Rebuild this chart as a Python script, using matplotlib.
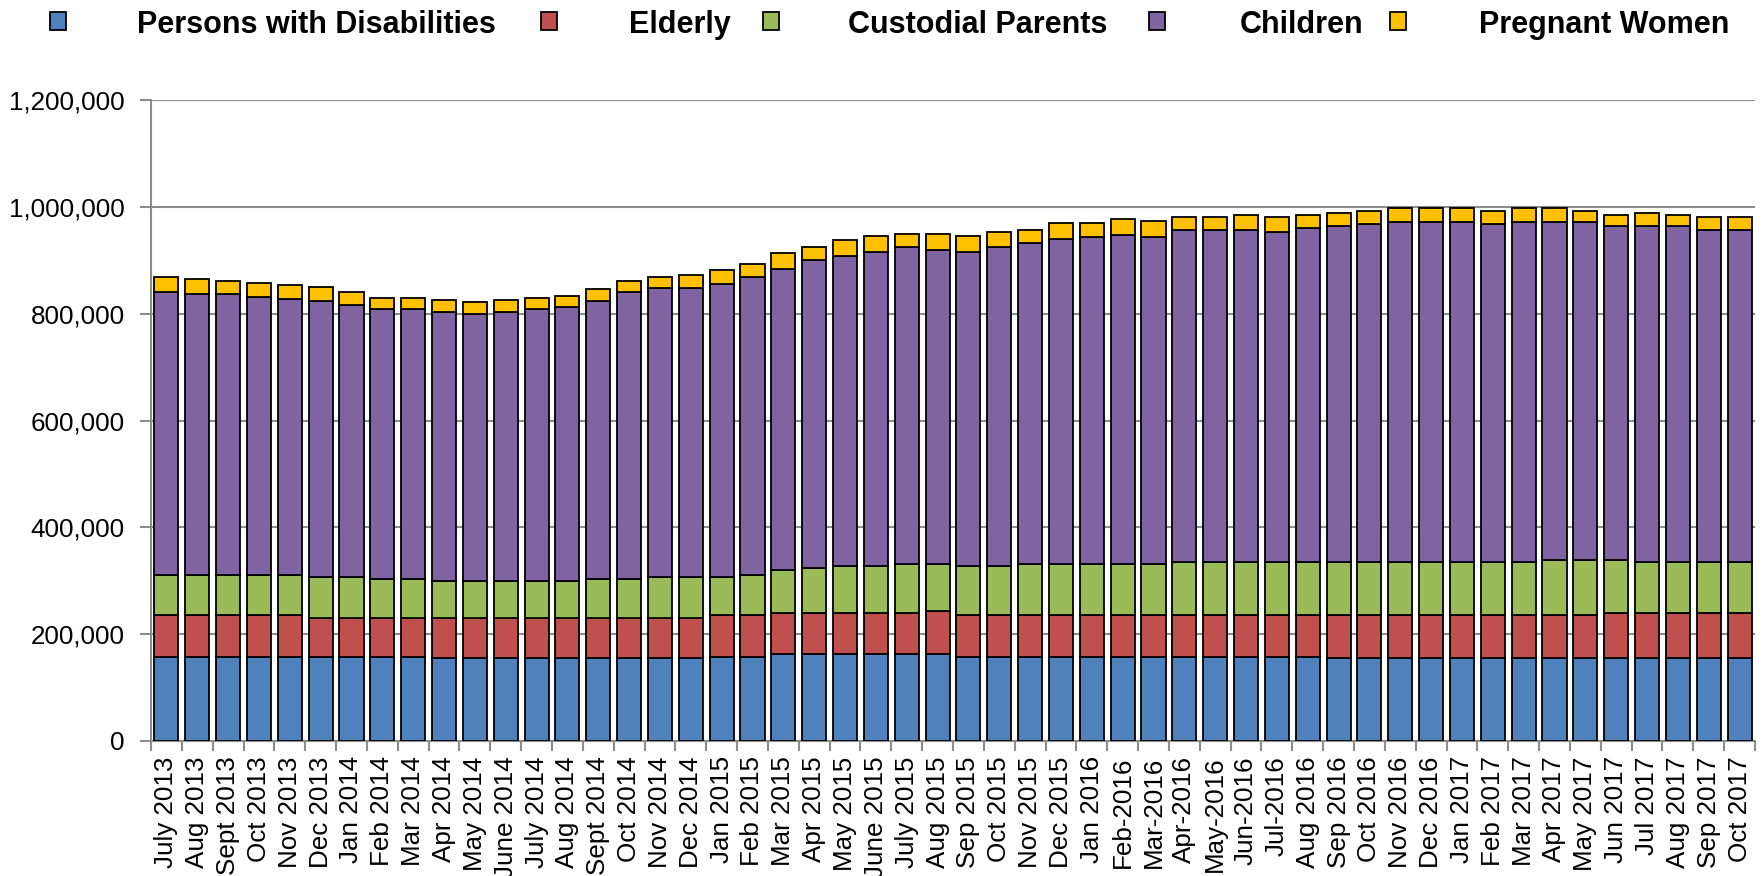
import numpy as np
import matplotlib
matplotlib.use('Agg')
import matplotlib.pyplot as plt
from matplotlib.patches import Rectangle
from matplotlib.ticker import FuncFormatter, MultipleLocator

plt.rcParams['font.family'] = ['Liberation Sans', 'DejaVu Sans']

months = ['July 2013', 'Aug 2013', 'Sept 2013', 'Oct 2013', 'Nov 2013', 'Dec 2013',
          'Jan 2014', 'Feb 2014', 'Mar 2014', 'Apr 2014', 'May 2014', 'June 2014',
          'July 2014', 'Aug 2014', 'Sept 2014', 'Oct 2014', 'Nov 2014', 'Dec 2014',
          'Jan 2015', 'Feb 2015', 'Mar 2015', 'Apr 2015', 'May 2015', 'June 2015',
          'July 2015', 'Aug 2015', 'Sep 2015', 'Oct 2015', 'Nov 2015', 'Dec 2015',
          'Jan 2016', 'Feb-2016', 'Mar-2016', 'Apr-2016', 'May-2016', 'Jun-2016',
          'Jul-2016', 'Aug 2016', 'Sep 2016', 'Oct 2016', 'Nov 2016', 'Dec 2016',
          'Jan 2017', 'Feb 2017', 'Mar 2017', 'Apr 2017', 'May 2017', 'Jun 2017',
          'Jul 2017', 'Aug 2017', 'Sep 2017', 'Oct 2017']

# values in thousands
disabled = [158, 158, 158, 158, 158, 158, 158, 158, 158, 155, 155, 155,
            155, 155, 155, 155, 155, 155, 158, 158, 162, 162, 162, 162,
            162, 162, 158, 158, 158, 158, 158, 158, 158, 158, 158, 158,
            158, 158, 155, 155, 155, 155, 155, 155, 155, 155, 155, 155,
            155, 155, 155, 155]
elderly = [77, 77, 77, 77, 77, 73, 73, 73, 73, 76, 76, 76,
           76, 76, 76, 76, 76, 76, 77, 77, 77, 77, 77, 77,
           77, 81, 77, 77, 77, 77, 77, 77, 77, 77, 77, 77,
           77, 77, 80, 80, 80, 80, 80, 80, 80, 80, 80, 84,
           84, 84, 84, 84]
custodial = [76, 76, 76, 76, 76, 76, 76, 72, 72, 68, 68, 68,
             68, 68, 72, 72, 76, 76, 72, 76, 81, 84, 88, 88,
             92, 88, 92, 92, 96, 96, 96, 96, 96, 100, 100, 100,
             100, 100, 100, 100, 100, 100, 100, 100, 100, 104, 104, 100,
             96, 96, 96, 96]
children = [529, 525, 525, 521, 517, 517, 509, 505, 505, 505, 501, 505,
            509, 513, 521, 537, 541, 541, 549, 557, 564, 577, 581, 589,
            593, 589, 589, 597, 601, 609, 613, 617, 613, 621, 621, 621,
            618, 626, 630, 633, 637, 637, 637, 633, 637, 633, 633, 626,
            630, 630, 622, 622]
pregnant = [28, 29, 26, 25, 25, 26, 25, 22, 22, 22, 22, 22,
            22, 21, 22, 21, 21, 25, 25, 25, 29, 25, 29, 29,
            25, 29, 29, 29, 25, 29, 25, 29, 29, 25, 25, 29,
            28, 24, 24, 25, 25, 25, 25, 25, 25, 25, 21, 20,
            24, 20, 24, 24]

names = ['Persons with Disabilities', 'Elderly', 'Custodial Parents', 'Children', 'Pregnant Women']
colors = ['#4F81BD', '#C0504D', '#9BBB59', '#8064A2', '#FFC000']

W, H = 1765, 876
fig = plt.figure(figsize=(W / 100, H / 100), dpi=100)
ax = fig.add_axes([151 / W, 1 - 741 / H, 1604 / W, 641 / H])

x = np.arange(len(months))
bottom = np.zeros(len(months))
for vals, name, col in zip([disabled, elderly, custodial, children, pregnant], names, colors):
    v = np.array(vals) * 1000
    ax.bar(x, v, 0.78, bottom=bottom, color=col, edgecolor='black', linewidth=1.3, zorder=3, label=name)
    bottom += v

grey = '#8c8c8c'
ax.set_xlim(-0.5, len(months) - 0.5)
ax.set_ylim(0, 1200000)
ax.yaxis.set_major_locator(MultipleLocator(200000))
ax.yaxis.set_major_formatter(FuncFormatter(lambda v, p: f'{int(v):,}'))
ax.grid(axis='y', color=grey, linewidth=1.5, zorder=0)
ax.set_axisbelow(True)
for s in ['top', 'right']:
    ax.spines[s].set_visible(False)
for s in ['left', 'bottom']:
    ax.spines[s].set_color(grey)
    ax.spines[s].set_linewidth(1.5)

ax.set_xticks(x)
ax.set_xticklabels(months, rotation=90)
ax.set_xticks(np.arange(-0.5, len(months)), minor=True)
ax.tick_params(axis='x', which='major', length=0, pad=11, labelsize=18.7)
ax.tick_params(axis='x', which='minor', length=7, width=1.5, color=grey)
ax.tick_params(axis='y', length=8, width=1.5, color=grey, pad=11, labelsize=18.7)

# legend laid out along the top like the original
sq_x = [50, 541, 763, 1149, 1390]
txt_x = [137, 629, 848, 1240, 1479]
for name, col, sx, tx in zip(names, colors, sq_x, txt_x):
    fig.patches.append(Rectangle((sx / W, 1 - 30 / H), 16 / W, 18 / H, transform=fig.transFigure,
                                 facecolor=col, edgecolor='black', linewidth=1.3))
    fig.text(tx / W, 1 - 33 / H, name, fontsize=22, fontweight='bold', va='baseline')

fig.savefig('out.png', dpi=100)
